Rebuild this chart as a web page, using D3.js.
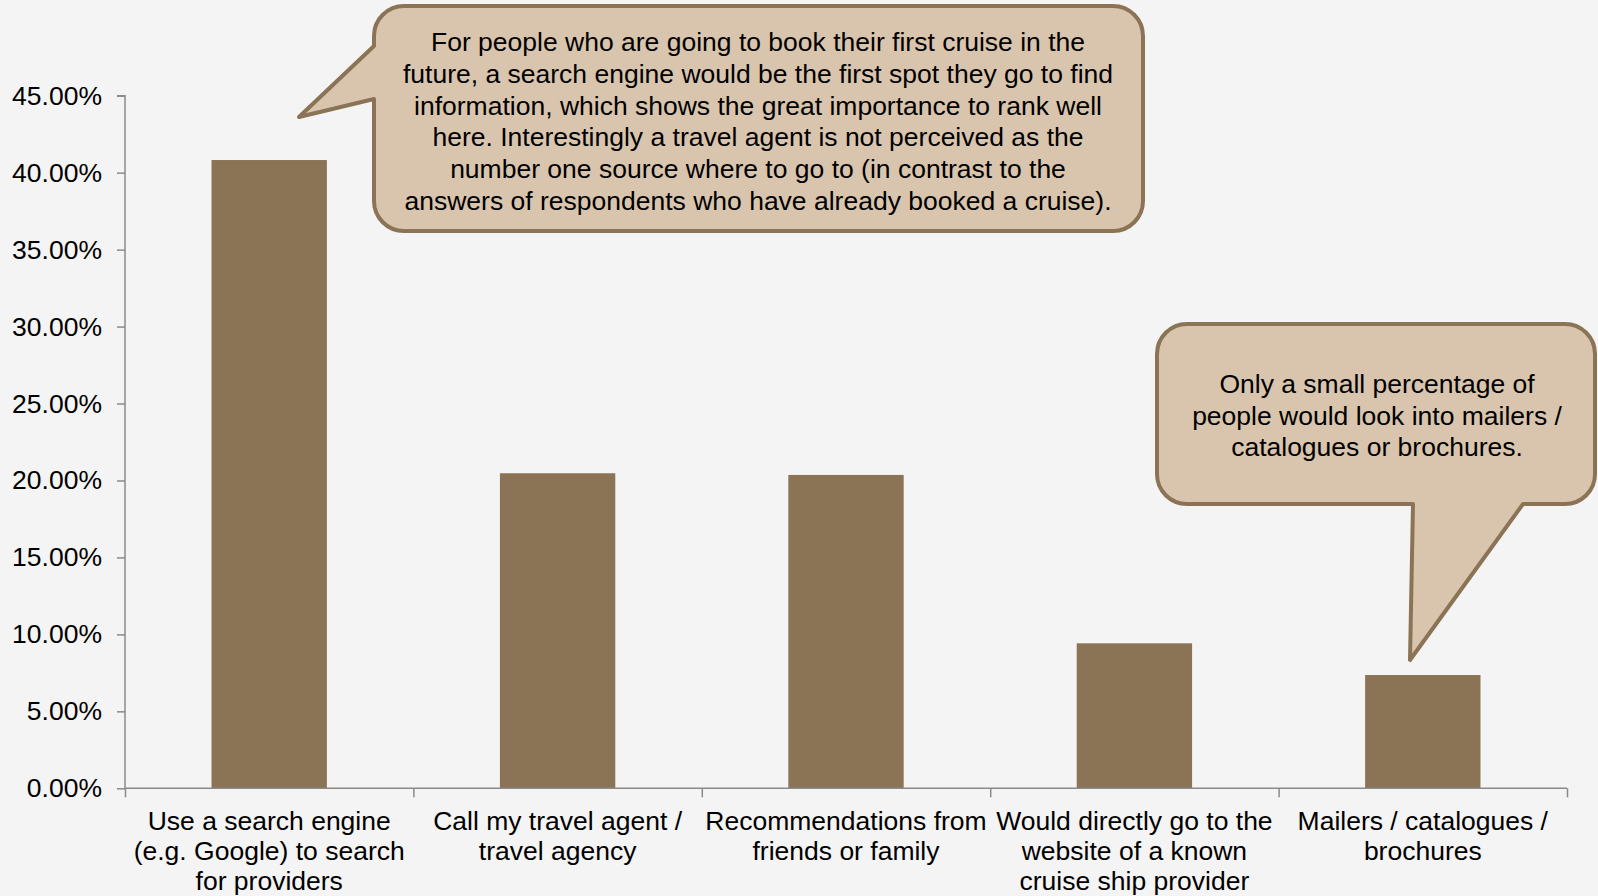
<!DOCTYPE html>
<html>
<head>
<meta charset="utf-8">
<script src="https://cdn.jsdelivr.net/npm/d3@7/dist/d3.min.js"></script>
<style>
  html, body { margin: 0; padding: 0; background: #f4f4f4; }
  svg { display: block; }
  text { font-family: "Liberation Sans", Arial, sans-serif; fill: #000; }
</style>
</head>
<body>
<svg id="chart" width="1598" height="896"></svg>
<script>
const categories = [
  ["Use a search engine", "(e.g. Google) to search", "for providers"],
  ["Call my travel agent /", "travel agency"],
  ["Recommendations from", "friends or family"],
  ["Would directly go to the", "website of a known", "cruise ship provider"],
  ["Mailers / catalogues /", "brochures"]
];
const values = [0.4082, 0.2047, 0.2036, 0.0942, 0.0736];
const yTicks = [0, 0.05, 0.10, 0.15, 0.20, 0.25, 0.30, 0.35, 0.40, 0.45];

const callout1Lines = [
  "For people who are going to book their first cruise in the",
  "future, a search engine would be the first spot they go to find",
  "information, which shows the great importance to rank well",
  "here. Interestingly a travel agent is not perceived as the",
  "number one source where to go to (in contrast to the",
  "answers of respondents who have already booked a cruise)."
];
const callout2Lines = [
  "Only a small percentage of",
  "people would look into mailers /",
  "catalogues or brochures."
];

const W = 1598, H = 896;
const plotLeft = 125, plotRight = 1567, plotTop = 95.7, plotBottom = 788.3;
const fontSize = 26.5;
const svg = d3.select("#chart");
svg.append("rect").attr("width", W).attr("height", H).attr("fill", "#f4f4f4");

const x = d3.scaleBand().domain(d3.range(values.length)).range([plotLeft, plotRight]).paddingInner(0.6).paddingOuter(0.3);
const y = d3.scaleLinear().domain([0, 0.45]).range([plotBottom, plotTop]);

const barColor = "#8b7355";
const axisColor = "#8a8a8a";

// bars
svg.append("g").selectAll("rect").data(values).join("rect")
  .attr("x", (d, i) => x(i))
  .attr("y", d => y(d))
  .attr("width", x.bandwidth())
  .attr("height", d => plotBottom - y(d))
  .attr("fill", barColor);

// y axis
const yAxis = d3.axisLeft(y).tickValues(yTicks).tickFormat(d3.format(".2%")).tickSize(8).tickPadding(15);
const gy = svg.append("g").attr("transform", `translate(${plotLeft},0)`).call(yAxis);
gy.select(".domain").attr("stroke", axisColor).attr("stroke-width", 1.5).attr("d", `M-8,${plotTop}H0V${plotBottom}`);
gy.selectAll(".tick line").attr("stroke", axisColor).attr("stroke-width", 1.5);
gy.selectAll(".tick text").attr("font-size", fontSize).attr("font-family", "Liberation Sans, Arial, sans-serif").attr("fill", "#000");

// x axis (boundary ticks)
const xEdge = d3.scaleLinear().domain([0, values.length]).range([plotLeft, plotRight]);
const xAxis = d3.axisBottom(xEdge).tickValues(d3.range(values.length + 1)).tickSize(9).tickFormat("");
const gx = svg.append("g").attr("transform", `translate(0,${plotBottom})`).call(xAxis);
gx.select(".domain").attr("stroke", axisColor).attr("stroke-width", 1.5).attr("d", `M${plotLeft},0H${plotRight}`);
gx.selectAll(".tick line").attr("stroke", axisColor).attr("stroke-width", 1.5);

// category labels
const lab = svg.append("g");
categories.forEach((lines, i) => {
  const cx = x(i) + x.bandwidth() / 2;
  const t = lab.append("text").attr("text-anchor", "middle").attr("font-size", fontSize);
  lines.forEach((l, j) => {
    t.append("tspan").attr("x", cx).attr("y", 830 + j * 30).text(l);
  });
});

// callouts
const fill = "#d9c5ae", stroke = "#8b7355";
function calloutLeft(x0, y0, x1, y1, r, pA, tip, pB) {
  const p = d3.path();
  p.moveTo(x0 + r, y0);
  p.lineTo(x1 - r, y0);
  p.arcTo(x1, y0, x1, y0 + r, r);
  p.lineTo(x1, y1 - r);
  p.arcTo(x1, y1, x1 - r, y1, r);
  p.lineTo(x0 + r, y1);
  p.arcTo(x0, y1, x0, y1 - r, r);
  p.lineTo(x0, pB);
  p.lineTo(tip[0], tip[1]);
  p.lineTo(x0, pA);
  p.lineTo(x0, y0 + r);
  p.arcTo(x0, y0, x0 + r, y0, r);
  p.closePath();
  return p.toString();
}
function calloutBottom(x0, y0, x1, y1, r, pL, tip, pR) {
  const p = d3.path();
  p.moveTo(x0 + r, y0);
  p.lineTo(x1 - r, y0);
  p.arcTo(x1, y0, x1, y0 + r, r);
  p.lineTo(x1, y1 - r);
  p.arcTo(x1, y1, x1 - r, y1, r);
  p.lineTo(pR, y1);
  p.lineTo(tip[0], tip[1]);
  p.lineTo(pL, y1);
  p.lineTo(x0 + r, y1);
  p.arcTo(x0, y1, x0, y1 - r, r);
  p.lineTo(x0, y0 + r);
  p.arcTo(x0, y0, x0 + r, y0, r);
  p.closePath();
  return p.toString();
}

svg.append("path")
  .attr("d", calloutLeft(374, 6, 1143, 231, 30, 46, [299, 117], 99))
  .attr("fill", fill).attr("stroke", stroke).attr("stroke-width", 4).attr("stroke-linejoin", "round");
const t1 = svg.append("text").attr("text-anchor", "middle").attr("font-size", fontSize);
callout1Lines.forEach((l, j) => {
  t1.append("tspan").attr("x", 758).attr("y", 51 + j * 31.8).text(l);
});

svg.append("path")
  .attr("d", calloutBottom(1157, 324, 1595, 504, 30, 1413, [1410, 660], 1523))
  .attr("fill", fill).attr("stroke", stroke).attr("stroke-width", 4).attr("stroke-linejoin", "round");
const t2 = svg.append("text").attr("text-anchor", "middle").attr("font-size", fontSize);
callout2Lines.forEach((l, j) => {
  t2.append("tspan").attr("x", 1377).attr("y", 393 + j * 31.6).text(l);
});
</script>
</body>
</html>
